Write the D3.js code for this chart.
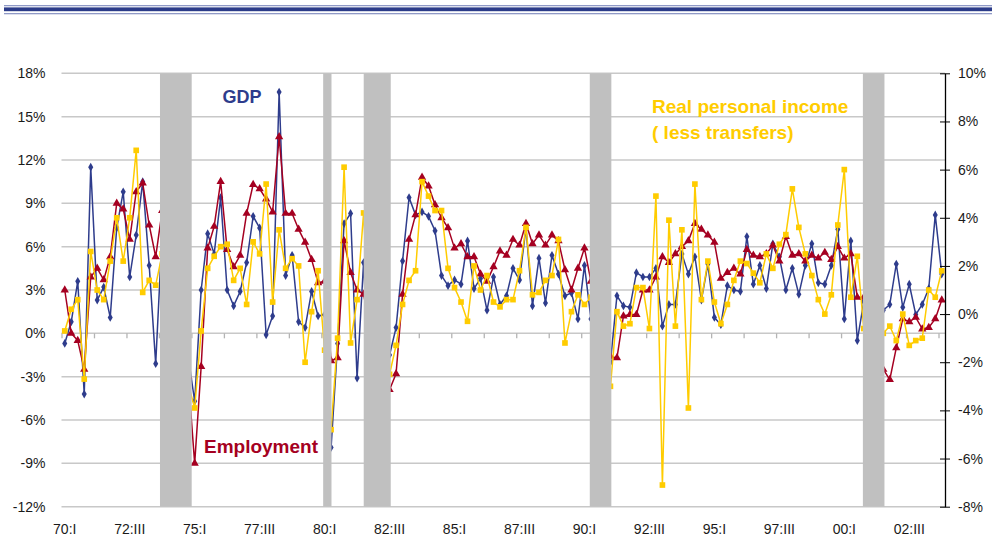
<!DOCTYPE html>
<html>
<head>
<meta charset="utf-8">
<script src="https://cdn.jsdelivr.net/npm/d3@7"></script>
<style>
  body { margin: 0; background: #fff; }
  svg { display: block; font-family: "Liberation Sans", Arial, sans-serif; }
</style>
</head>
<body>
<div id="chart"></div>
<script>
// *** Growth rates, quarterly, annualized ***

// quarters 1970:I .. 2003:IV
let years = d3.range(1970, 2004);
let romans = ["I", "II", "III", "IV"];
let quarters = [];
years.forEach(y => romans.forEach(r => quarters.push(String(y).slice(2) + ":" + r)));

let quarterLabels = ["70:I", "72:III", "75:I", "77:III", "80:I", "82:III", "85:I",
    "87:III", "90:I", "92:III", "95:I", "97:III", "00:I", "02:III"];

// left axis (%)
let gdp = [
    -0.7, 0.8, 3.6, -4.2, 11.5, 2.3, 3.2, 1.1, 7.3, 9.8, 3.9, 6.8, 10.5, 4.7, -2.1, 7.0,
    -3.4, 1.0, -3.7, -1.6, -4.7, 3.0, 6.9, 5.5, 9.4, 3.0, 1.9, 2.9, 4.9, 8.1, 7.3, -0.1,
    1.2, 16.7, 4.0, 5.4, 0.8, 0.4, 2.9, 1.2, 1.3, -7.9, -0.7, 7.6, 8.3, -3.1, 4.9, -4.9,
    -6.4, 2.2, -1.5, 0.4, 5.0, 9.4, 8.2, 8.4, 8.1, 7.1, 4.0, 3.3, 3.7, 3.4, 6.4, 3.1,
    3.8, 1.6, 3.9, 2.0, 2.6, 4.5, 3.7, 7.3, 1.9, 5.2, 2.1, 5.4, 4.1, 2.6, 2.8, 1.0,
    4.7, 1.0, -3.0, -2.0, -2.0, 2.6, 1.9, 1.8, 4.2, 3.9, 3.9, 4.5, 0.5, 2.0, 2.0, 5.5,
    4.1, 5.3, 2.3, 4.8, 1.1, 0.6, 3.3, 3.0, 2.9, 6.7, 3.4, 4.7, 3.1, 6.2, 5.3, 3.0,
    4.5, 2.7, 4.7, 6.2, 3.5, 3.4, 4.7, 7.2, 1.0, 6.4, -0.5, 2.2, -0.6, -1.3, 1.6, 2.0,
    4.8, 1.8, 3.4, 1.3, 2.0, 3.1, 8.2, 4.1
];

let employment = [
    3.0, 0.0, -0.5, -2.5, 3.9, 4.5, 3.7, 5.3, 9.0, 8.6, 6.5, 9.8, 10.4, 7.5, 5.3, 8.5,
    1.5, 1.0, 0.5, -3.0, -9.0, -2.3, 5.9, 7.4, 10.5, 5.8, 4.6, 5.4, 8.3, 10.3, 10.0, 9.3,
    8.4, 13.6, 8.3, 8.3, 7.2, 6.3, 5.1, 3.5, 3.6, -1.9, -1.7, 6.4, 4.2, 3.0, 2.7, 0.5,
    -3.0, -2.0, -3.9, -2.8, 2.7, 6.5, 8.2, 10.8, 10.2, 8.9, 8.0, 7.3, 5.9, 6.2, 5.3, 5.3,
    4.1, 3.6, 4.6, 5.7, 5.4, 6.5, 6.1, 7.6, 6.2, 6.8, 6.1, 6.8, 6.4, 4.4, 3.0, 4.5,
    5.9, 3.6, 0.5, -1.0, -1.6, -1.7, 1.2, 1.3, 1.3, 3.0, 3.0, 3.9, 5.3, 4.9, 5.5, 6.0,
    6.4, 7.6, 7.2, 6.8, 6.3, 3.8, 4.2, 4.5, 4.1, 5.8, 5.4, 5.3, 5.5, 6.1, 5.0, 6.7,
    5.4, 5.5, 5.0, 5.4, 5.2, 5.6, 5.1, 6.0, 5.2, 5.5, 2.5, 2.5, 0.5, -1.5, -2.5, -3.2,
    -1.0, 1.0, 0.8, 1.1, 0.3, 0.4, 1.0, 2.3
];

// right axis (%)
let income = [
    -0.7, 0.2, 0.6, -2.7, 2.6, 1.0, 0.6, 2.2, 4.0, 2.2, 4.0, 6.8, 0.9, 1.4, 1.2, 2.5,
    -1.5, -1.0, -1.0, -2.9, -3.9, -0.7, 1.9, 2.4, 2.8, 2.9, 1.4, 1.9, 0.4, 3.0, 2.5, 5.4,
    0.5, 3.5, 1.9, 2.3, 2.0, -2.0, 0.1, 1.8, -1.5, -4.8, -1.0, 6.1, -1.2, 0.6, 4.2, -1.0,
    -2.0, -1.5, -2.5, -1.3, 0.4, 1.4, 1.8, 5.5, 4.9, 4.3, 4.3, 1.9, 1.1, 0.5, -0.3, 2.0,
    1.0, 1.6, 0.5, 0.3, 0.6, 0.6, 1.8, 3.6, 0.8, 0.9, 1.4, 1.6, 3.1, -1.2, 0.1, 0.8,
    0.4, 0.7, -1.5, -2.0, -3.0, 0.1, -0.5, -0.4, 1.1, 1.1, -0.6, 4.9, -7.1, 3.9, -0.5, 3.5,
    -3.9, 5.4, 0.6, 2.2, 0.5, -0.4, 0.4, 1.4, 2.2, 2.1, 1.7, 1.3, 2.5, 1.9, 2.9, 3.3,
    5.2, 3.6, 2.5, 1.6, 0.6, 0.0, 0.8, 3.7, 6.0, 0.7, 2.4, -0.6, -1.0, -1.5, -0.8, -0.5,
    -1.1, 0.0, -1.3, -1.1, -1.0, 1.0, 0.7, 1.8
];

// recession shading, decimal years
let recessionStart = [1973.79, 1980.07, 1981.63, 1990.33, 2000.84];
let recessionEnd = [1975.01, 1980.39, 1982.67, 1991.16, 2001.67];

let leftTicks = d3.range(-12, 19, 3);
let rightTicks = d3.range(-8, 11, 2);

// dimensions
let svgWidth = 992;
let svgHeight = 540;
let plot = { left: 61.5, right: 945, top: 73.3, bottom: 506.7 };

let svg = d3.select("#chart").append("svg")
    .attr("width", svgWidth)
    .attr("height", svgHeight);

// banner rules at top
svg.append("rect").attr("x", 4).attr("y", 5).attr("width", 988).attr("height", 1.3).attr("fill", "#8f99c6");
svg.append("rect").attr("x", 4).attr("y", 7.4).attr("width", 988).attr("height", 3.8).attr("fill", "#2c3c89");
svg.append("rect").attr("x", 4).attr("y", 13).attr("width", 988).attr("height", 1.3).attr("fill", "#8f99c6");

// scales
let xBand = d3.scaleBand().domain(quarters).range([plot.left, plot.right]).padding(0);
let xIdx = d3.scaleLinear().domain([0, quarters.length]).range([plot.left, plot.right]);
let xYear = d3.scaleLinear().domain([1970, 1970 + quarters.length / 4]).range([plot.left, plot.right]);
let yLeft = d3.scaleLinear().domain([-12, 18]).range([plot.bottom, plot.top]);
let yRight = d3.scaleLinear().domain([-8, 10]).range([plot.bottom, plot.top]);
let xc = q => xBand(q) + xBand.bandwidth() / 2;

// gridlines
svg.append("g")
    .selectAll("line")
    .data(leftTicks)
    .enter()
    .append("line")
    .attr("x1", plot.left)
    .attr("x2", plot.right)
    .attr("y1", d => yLeft(d))
    .attr("y2", d => yLeft(d))
    .attr("stroke", "#c8c8c8")
    .attr("stroke-width", 1.5);

// category tick marks on the zero line
let tickAxis = svg.append("g")
    .attr("transform", `translate(0,${yLeft(0)})`)
    .call(d3.axisBottom(xIdx).tickValues(d3.range(0, quarters.length + 1, 5)).tickFormat("").tickSize(5).tickSizeOuter(0));
tickAxis.select(".domain").remove();
tickAxis.selectAll("line").attr("stroke", "#b4b4b4").attr("stroke-width", 1.3);

// category labels at bottom
let xLab = svg.append("g")
    .attr("transform", `translate(0,${plot.bottom + 14})`)
    .call(d3.axisBottom(xBand).tickValues(quarterLabels).tickSize(0));
xLab.select(".domain").remove();
xLab.selectAll("text")
    .attr("font-size", "14px")
    .attr("font-family", "Liberation Sans, Arial, sans-serif")
    .attr("fill", "#1a1a1a");

// left axis labels
let leftAxis = svg.append("g")
    .attr("transform", `translate(${plot.left - 13},0)`)
    .call(d3.axisLeft(yLeft).tickValues(leftTicks).tickFormat(d => d + "%").tickSize(0));
leftAxis.select(".domain").remove();
leftAxis.selectAll("text")
    .attr("font-size", "14px")
    .attr("font-family", "Liberation Sans, Arial, sans-serif")
    .attr("fill", "#1a1a1a");

// series
let series = [
    { values: gdp, y: yLeft, color: "#2e3c8c", symbol: d3.symbolDiamond, size: 22 },
    { values: employment, y: yLeft, color: "#a50021", symbol: d3.symbolTriangle, size: 30 },
    { values: income, y: yRight, color: "#ffcc00", symbol: d3.symbolSquare, size: 32 }
];

series.forEach(function(s) {
    let line = d3.line()
        .x((d, i) => xc(quarters[i]))
        .y(d => s.y(d));

    let g = svg.append("g");
    g.append("path")
        .datum(s.values)
        .attr("d", line)
        .attr("fill", "none")
        .attr("stroke", s.color)
        .attr("stroke-width", 1.5)
        .attr("stroke-linejoin", "round");

    g.selectAll("path.mark")
        .data(s.values)
        .enter()
        .append("path")
        .attr("class", "mark")
        .attr("d", d3.symbol().type(s.symbol).size(s.size))
        .attr("transform", (d, i) => `translate(${xc(quarters[i])},${s.y(d)})`)
        .attr("fill", s.color);
});

// recession bars sit on top of the lines
svg.append("g")
    .selectAll("rect")
    .data(recessionStart)
    .enter()
    .append("rect")
    .attr("x", d => xYear(d))
    .attr("width", (d, i) => xYear(recessionEnd[i]) - xYear(d))
    .attr("y", plot.top)
    .attr("height", plot.bottom - plot.top)
    .attr("fill", "#c0c0c0");

// right axis
let rightAxis = svg.append("g")
    .attr("transform", `translate(${plot.right},0)`)
    .call(d3.axisRight(yRight).tickValues(rightTicks).tickFormat(d => d + "%").tickSize(5).tickPadding(8).tickSizeOuter(0));
rightAxis.select(".domain").attr("stroke", "#000").attr("stroke-width", 1.3);
rightAxis.selectAll(".tick line").attr("x1", -5).attr("stroke", "#000");
rightAxis.selectAll("text")
    .attr("font-size", "14px")
    .attr("font-family", "Liberation Sans, Arial, sans-serif")
    .attr("fill", "#1a1a1a");

// series labels
svg.append("text")
    .attr("x", 242)
    .attr("y", 103)
    .attr("text-anchor", "middle")
    .attr("font-size", "18px")
    .attr("font-weight", "bold")
    .attr("fill", "#2e3c8c")
    .text("GDP");

svg.append("text")
    .attr("x", 204)
    .attr("y", 453)
    .attr("font-size", "19px")
    .attr("font-weight", "bold")
    .attr("fill", "#a50021")
    .text("Employment");

let incomeLabel = svg.append("text")
    .attr("font-size", "19px")
    .attr("font-weight", "bold")
    .attr("fill", "#ffcc00");
incomeLabel.append("tspan").attr("x", 652).attr("y", 113).text("Real personal income");
incomeLabel.append("tspan").attr("x", 652).attr("y", 139).text("( less transfers)");
</script>
</body>
</html>
